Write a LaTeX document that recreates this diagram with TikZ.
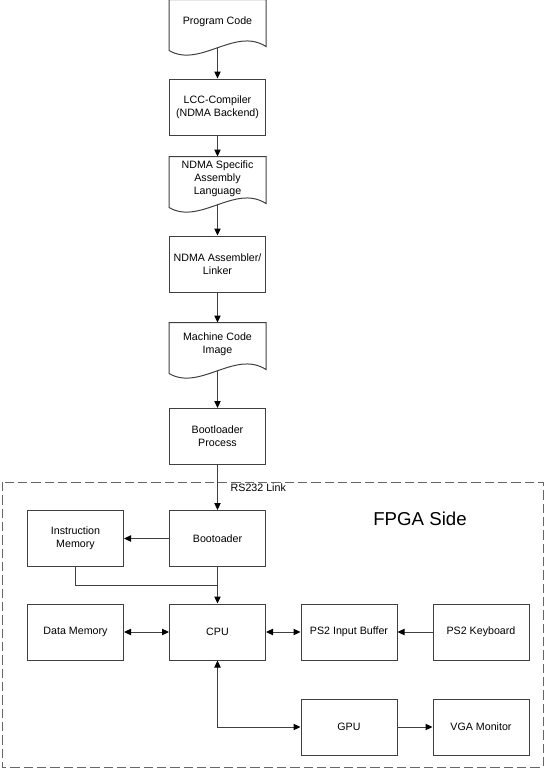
\documentclass[tikz,border=0pt]{standalone}
\usepackage{fontspec}
\setmainfont{Liberation Sans}
\usetikzlibrary{calc,arrows.meta}
\tikzset{
	box/.style={draw=black!75, line width=0.75pt, minimum width=72pt, minimum height=42pt, inner sep=2pt, align=center, font=\fontsize{8}{9.75}\selectfont},
	doc/.style={box, draw=none, minimum height=32.25pt},
	wire/.style={draw=black!75, line width=0.75pt},
	link/.style={wire, -{Triangle[length=5.25pt,width=4.75pt,color=black]}},
	dlink/.style={wire, {Triangle[length=5.25pt,width=4.75pt,color=black]}-{Triangle[length=5.25pt,width=4.75pt,color=black]}},
}
\def\docshape(#1){\draw[wire] (#1.north east) -- ($(#1.south east)+(0,3)$) .. controls ($(#1.south west)+(66,-17)$) and ($(#1.south west)+(31,25)$) .. ($(#1.south west)+(0,7)$) -- (#1.north west) -- cycle;}
\begin{document}
\begin{tikzpicture}[x=0.75pt, y=-0.75pt]
			%%%%% START %%%%%
			\useasboundingbox (0,0) rectangle (546,769);
			
			\draw[wire, black!60, dash pattern=on 7pt off 3pt] (2,482) rectangle (543,767);
			
			\node[doc] (prog) at (217.5,21.5) {Program Code};
			\docshape(prog)
			\node[box] (lcc) at (217.5,107) {LCC-Compiler\\(NDMA Backend)};
			\node[doc] (ndmalang) at (217.5,178.5) {NDMA Specific\\Assembly\\Language};
			\docshape(ndmalang)
			\node[box] (asm) at (217.5,264) {NDMA Assembler/\\Linker};
			\node[doc] (mcode) at (217.5,344.5) {Machine Code\\Image};
			\docshape(mcode)
			\node[box] (bootproc) at (217.5,436.5) {Bootloader\\Process};
			
			\node[box] (bootldr) at (217.5,538.5) {Bootoader};
			\node[box] (imem) at (75.5,538.5) {Instruction\\Memory};
			\node[box] (cpu) at (217.5,632) {CPU};
			\node[box] (dmem) at (75.5,632) {Data Memory};
			\node[box] (ps2buf) at (349,632) {PS2 Input Buffer};
			\node[box] (ps2kbd) at (481,632) {PS2 Keyboard};
			\node[box] (gpu) at (349,727) {GPU};
			\node[box] (vga) at (481,727) {VGA Monitor};
			
			\node[anchor=west, font=\fontsize{8}{9.75}\selectfont] (rslabel) at (226,488) {RS232 Link};
			\node[font=\fontsize{14}{16}\selectfont] (fpga) at (420,519) {FPGA Side};
			
			\draw[link] ($(prog.south)+(0,4)$) -- (lcc);
			\draw[link] (lcc) -- (ndmalang);
			\draw[link] ($(ndmalang.south)+(0,4)$) -- (asm);
			\draw[link] (asm) -- (mcode);
			\draw[link] ($(mcode.south)+(0,4)$) -- (bootproc);
			\draw[link] (bootproc) -- (bootldr);
			
			\draw[link] (bootldr) -- (imem);
			\coordinate (join) at (217.5,585);
			\draw[wire] (imem.south) |- (join);
			\draw[link] (bootldr) -- (cpu);
			\draw[dlink] (dmem) -- (cpu);
			\draw[dlink] (cpu) -- (ps2buf);
			\draw[link] (ps2kbd) -- (ps2buf);
			\draw[dlink] (cpu.south) |- (gpu.west);
			\draw[link] (gpu) -- (vga);
			
			%%%%% END %%%%%
		\end{tikzpicture}
\end{document}
